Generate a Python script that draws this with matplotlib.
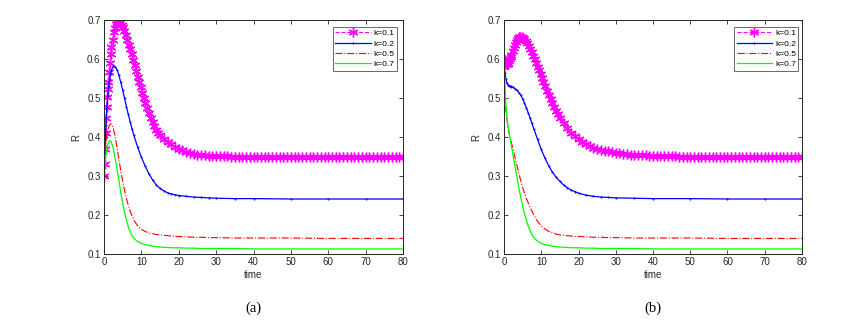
import matplotlib
matplotlib.use("Agg")
import matplotlib.pyplot as plt

plt.rcParams['font.family'] = ['Liberation Sans', 'DejaVu Sans']

# ---------------- data ----------------
# dense time grid for the k=0.1 (starred) series
t_star = [0, 0.15, 0.3, 0.45, 0.6, 0.75, 0.9, 1.05, 1.2, 1.4, 1.6, 1.8, 2.0, 2.3, 2.6, 2.9,
          3.2, 3.5, 3.8, 4.1, 4.4, 4.7, 5.0, 5.4, 5.8, 6.2, 6.6, 7.0, 7.4, 7.8, 8.2, 8.6,
          9.0, 9.4, 9.8, 10.2, 10.6, 11.0, 11.5, 12, 12.5, 13, 13.5, 14, 14.5, 15,
          16, 17, 18, 19, 20, 21, 22, 23, 24, 25, 26, 27, 28, 29, 30, 31, 32, 33, 34, 35,
          36, 37, 38, 39, 40, 41, 42, 43, 44, 45, 46, 47, 48, 49, 50, 51, 52, 53, 54, 55,
          56, 57, 58, 59, 60, 61, 62, 63, 64, 65, 66, 67, 68, 69, 70, 71, 72, 73, 74, 75,
          76, 77, 78, 79, 80]

a_k01 = [0.300, 0.330, 0.370, 0.410, 0.450, 0.478, 0.502, 0.522, 0.542, 0.566, 0.590, 0.612,
         0.630, 0.650, 0.668, 0.680, 0.690, 0.695, 0.697, 0.696, 0.693, 0.688, 0.682, 0.672,
         0.662, 0.650, 0.637, 0.625, 0.612, 0.598, 0.584, 0.570, 0.555, 0.541, 0.527, 0.513,
         0.500, 0.488, 0.474, 0.461, 0.449, 0.438, 0.428, 0.419, 0.411, 0.404,
         0.395, 0.388, 0.381, 0.375, 0.370, 0.366, 0.362, 0.359, 0.357, 0.355, 0.354, 0.353,
         0.352, 0.352, 0.351, 0.351, 0.351, 0.351, 0.350, 0.350, 0.350, 0.350, 0.350, 0.350,
         0.350, 0.350, 0.350, 0.350, 0.350, 0.350, 0.350, 0.350, 0.350, 0.350, 0.350, 0.350,
         0.350, 0.350, 0.350, 0.350, 0.350, 0.350, 0.350, 0.350, 0.350, 0.350, 0.350, 0.350,
         0.350, 0.350, 0.350, 0.350, 0.350, 0.350, 0.350, 0.350, 0.350, 0.350, 0.350, 0.350,
         0.350, 0.350, 0.350, 0.350, 0.350]

b_k01 = [0.600, 0.597, 0.593, 0.590, 0.588, 0.587, 0.587, 0.588, 0.590, 0.594, 0.599, 0.605,
         0.611, 0.620, 0.629, 0.637, 0.644, 0.649, 0.653, 0.656, 0.657, 0.657, 0.655, 0.651,
         0.646, 0.640, 0.633, 0.625, 0.617, 0.608, 0.599, 0.590, 0.580, 0.571, 0.561, 0.551,
         0.541, 0.531, 0.519, 0.508, 0.497, 0.486, 0.476, 0.467, 0.458, 0.450,
         0.435, 0.422, 0.411, 0.402, 0.394, 0.387, 0.382, 0.377, 0.373, 0.370, 0.367, 0.365,
         0.363, 0.361, 0.359, 0.358, 0.357, 0.356, 0.355, 0.354, 0.354, 0.353, 0.353, 0.352,
         0.352, 0.352, 0.351, 0.351, 0.351, 0.351, 0.351, 0.350, 0.350, 0.350, 0.350, 0.350,
         0.350, 0.350, 0.350, 0.350, 0.350, 0.350, 0.350, 0.350, 0.350, 0.350, 0.350, 0.350,
         0.350, 0.350, 0.350, 0.350, 0.350, 0.350, 0.350, 0.350, 0.350, 0.350, 0.350, 0.350,
         0.350, 0.350, 0.350, 0.350, 0.350]

# time grid for the line series
t_line = [0, 0.25, 0.5, 0.75, 1, 1.25, 1.5, 1.75, 2, 2.5, 3, 3.5, 4, 4.5, 5, 5.5, 6, 6.5, 7,
          7.5, 8, 9, 10, 11, 12, 13, 14, 15, 16, 17, 18, 19, 20, 22, 24, 26, 28, 30, 35, 40,
          50, 60, 70, 80]

a_k02 = [0.300, 0.370, 0.430, 0.475, 0.505, 0.530, 0.548, 0.562, 0.572, 0.581, 0.580, 0.572,
         0.558, 0.540, 0.520, 0.499, 0.478, 0.458, 0.439, 0.421, 0.404, 0.374, 0.348, 0.326,
         0.306, 0.290, 0.277, 0.268, 0.262, 0.257, 0.254, 0.252, 0.250, 0.248, 0.246, 0.245,
         0.244, 0.243, 0.242, 0.242, 0.241, 0.241, 0.241, 0.241]
a_k05 = [0.300, 0.345, 0.375, 0.398, 0.414, 0.425, 0.431, 0.434, 0.433, 0.422, 0.400, 0.372,
         0.342, 0.313, 0.287, 0.263, 0.242, 0.225, 0.210, 0.197, 0.187, 0.172, 0.163, 0.158,
         0.154, 0.152, 0.150, 0.149, 0.148, 0.147, 0.146, 0.145, 0.145, 0.144, 0.143, 0.143,
         0.142, 0.142, 0.141, 0.141, 0.141, 0.140, 0.140, 0.140]
a_k07 = [0.300, 0.330, 0.352, 0.368, 0.379, 0.386, 0.390, 0.390, 0.386, 0.370, 0.345, 0.318,
         0.288, 0.257, 0.230, 0.207, 0.187, 0.170, 0.157, 0.147, 0.140, 0.132, 0.127, 0.124,
         0.122, 0.120, 0.119, 0.118, 0.117, 0.117, 0.116, 0.116, 0.116, 0.115, 0.115, 0.114,
         0.114, 0.114, 0.114, 0.113, 0.113, 0.113, 0.113, 0.113]

b_k02 = [0.600, 0.565, 0.548, 0.539, 0.534, 0.532, 0.531, 0.530, 0.529, 0.527, 0.524, 0.520,
         0.514, 0.507, 0.498, 0.487, 0.475, 0.462, 0.449, 0.435, 0.421, 0.394, 0.368, 0.346,
         0.326, 0.310, 0.297, 0.286, 0.277, 0.270, 0.264, 0.260, 0.256, 0.251, 0.248, 0.246,
         0.245, 0.244, 0.243, 0.242, 0.242, 0.241, 0.241, 0.241]
b_k05 = [0.600, 0.510, 0.470, 0.447, 0.430, 0.416, 0.404, 0.394, 0.385, 0.366, 0.346, 0.326,
         0.306, 0.288, 0.271, 0.256, 0.243, 0.231, 0.220, 0.210, 0.200, 0.184, 0.172, 0.164,
         0.158, 0.154, 0.151, 0.149, 0.148, 0.147, 0.146, 0.145, 0.145, 0.144, 0.143, 0.143,
         0.142, 0.142, 0.141, 0.141, 0.141, 0.140, 0.140, 0.140]
b_k07 = [0.600, 0.530, 0.485, 0.456, 0.435, 0.418, 0.404, 0.390, 0.376, 0.350, 0.323, 0.296,
         0.269, 0.245, 0.223, 0.204, 0.187, 0.172, 0.160, 0.150, 0.142, 0.133, 0.127, 0.124,
         0.122, 0.120, 0.119, 0.118, 0.117, 0.117, 0.116, 0.116, 0.116, 0.115, 0.115, 0.114,
         0.114, 0.114, 0.114, 0.113, 0.113, 0.113, 0.113, 0.113]

labels = ['k=0.1', 'k=0.2', 'k=0.5', 'k=0.7']
xticks = [0, 10, 20, 30, 40, 50, 60, 70, 80]
yticks = [0.1, 0.2, 0.3, 0.4, 0.5, 0.6, 0.7]
ytick_labels = ['0.1', '0.2', '0.3', '0.4', '0.5', '0.6', '0.7']
captions = ['(a)', '(b)']

# ---------------- figure ----------------
fig = plt.figure(figsize=(8.44, 3.26), dpi=100)
W, H = 844, 326

def px_axes(left, top, right, bottom):
    return fig.add_axes([left / W, 1 - bottom / H, (right - left) / W, (bottom - top) / H])

ax_a = px_axes(104, 20, 403, 254)
ax_b = px_axes(504, 20, 802, 254)

panels = [
    (ax_a, a_k01, a_k02, a_k05, a_k07, (0.765, 0.97)),
    (ax_b, b_k01, b_k02, b_k05, b_k07, (0.772, 0.97)),
]

asterisk = (6, 2, 0)
fs = 7
tc = '#262626'
for i, (ax, s1, s2, s3, s4, lpos) in enumerate(panels):
    ax.plot(t_star, s1, color='#FF00FF', linestyle='--', marker=asterisk, markersize=7,
            linewidth=0.8, markeredgewidth=1.0, label=labels[0])
    ax.plot(t_line, s2, color='#0000FF', linestyle='-', marker='.', markersize=0.9,
            linewidth=0.9, label=labels[1])
    ax.plot(t_line, s3, color='#FF0000', linestyle='-.', linewidth=0.8, label=labels[2])
    ax.plot(t_line, s4, color='#00FF00', linestyle='-', linewidth=0.9, label=labels[3])

    ax.set_xlim(0, 80)
    ax.set_ylim(0.1, 0.7)
    ax.set_xticks(xticks)
    ax.set_yticks(yticks)
    ax.set_yticklabels(ytick_labels)
    ax.tick_params(direction='in', length=3, width=0.6, labelsize=fs, top=True, right=True,
                   pad=2.5, colors=tc, labelcolor=tc)
    for sp in ax.spines.values():
        sp.set_linewidth(0.7)
        sp.set_color(tc)
    ax.set_xlabel('time', fontsize=fs, labelpad=2, color=tc)
    ax.set_ylabel('R', fontsize=fs, labelpad=4, color=tc)

    leg = ax.legend(loc='upper left', bbox_to_anchor=lpos, fontsize=6,
                    frameon=True, fancybox=False, edgecolor=tc, handlelength=4.3,
                    handletextpad=0.3, borderpad=0.3, labelspacing=0.3, borderaxespad=0)
    leg.get_frame().set_linewidth(0.6)

    ax.text(0.5, -0.205, captions[i], transform=ax.transAxes, ha='center', va='top',
            fontsize=10.5, family=['Liberation Serif', 'DejaVu Serif'])

fig.savefig('out.png', dpi=100)
